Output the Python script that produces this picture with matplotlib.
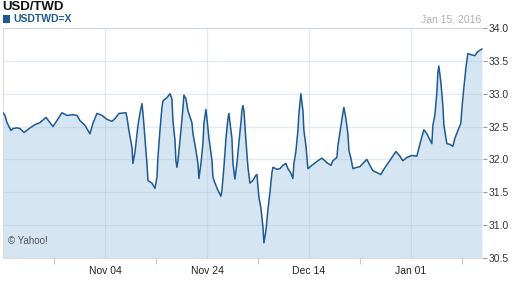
import numpy as np
import pandas as pd
import matplotlib
matplotlib.use('Agg')
import matplotlib.pyplot as plt
from matplotlib.patches import Rectangle

plt.rcParams['font.family'] = ['Liberation Sans', 'DejaVu Sans']

# trading days after 2015-10-15 (weekends skipped) and USD/TWD rate
start = '2015-10-15'
trade_day = [0.00, 0.27, 0.55, 1.10, 1.37, 1.92, 2.33, 2.88, 3.71, 4.39, 5.08, 5.90, 6.86,
             8.10, 8.78, 9.61, 10.16, 10.57, 11.25, 11.94, 12.35, 12.90, 13.59, 14.27, 14.96,
             15.37, 15.92, 16.88, 17.02, 17.29, 17.71, 17.84, 18.12, 18.53, 18.80, 19.08, 19.22,
             19.49, 19.76, 19.90, 20.45, 20.86, 21.14, 21.27, 21.55, 21.82, 21.96, 22.51, 22.92,
             23.19, 23.33, 23.61, 23.74, 23.88, 24.02, 24.43, 24.70, 24.84, 25.12, 25.39, 25.94,
             26.08, 26.49, 26.76, 26.90, 27.18, 27.45, 27.59, 27.86, 28.00, 28.27, 28.69, 28.82,
             29.10, 29.51, 29.92, 30.06, 30.33, 30.61, 30.88, 31.02, 31.16, 31.43, 31.57, 31.84,
             32.12, 32.39, 32.67, 32.80, 32.94, 33.08, 33.35, 33.63, 33.90, 34.31, 34.72, 34.86,
             35.14, 35.41, 35.69, 35.82, 36.10, 36.37, 36.65, 36.92, 37.06, 37.61, 38.02, 38.43,
             38.84, 39.12, 39.53, 39.80, 39.94, 40.21, 40.49, 40.63, 40.90, 41.18, 41.31, 41.59,
             41.86, 42.41, 43.23, 43.78, 44.19, 44.47, 45.02, 45.29, 45.84, 45.98, 46.25, 46.53,
             46.67, 46.80, 47.08, 47.35, 47.49, 47.76, 48.04, 48.59, 49.00, 49.41, 49.96, 50.37,
             50.78, 51.33, 51.88, 52.29, 52.84, 53.39, 53.94, 54.49, 54.90, 55.45, 56.13, 56.82,
             56.96, 57.37, 57.78, 58.19, 58.61, 58.88, 59.02, 59.29, 59.57, 59.70, 59.84, 60.12,
             60.39, 60.53, 60.94, 61.35, 61.76, 62.04, 62.45, 62.86, 63.00, 63.27, 63.55, 63.82,
             64.37, 64.78, 65.19, 65.74]
rate = [32.71, 32.67, 32.56, 32.44, 32.47, 32.48, 32.47, 32.41, 32.48, 32.53, 32.56, 32.64, 32.50,
        32.71, 32.67, 32.68, 32.67, 32.59, 32.52, 32.39, 32.55, 32.70, 32.67, 32.61, 32.58,
        32.62, 32.70, 32.71, 32.64, 32.44, 32.18, 31.94, 32.11, 32.52, 32.70, 32.85, 32.70,
        32.32, 31.94, 31.68, 31.64, 31.56, 31.73, 32.03, 32.44, 32.79, 32.89, 32.94, 33.00,
        32.92, 32.59, 32.29, 31.98, 31.88, 31.98, 32.44, 32.77, 32.98, 32.92, 32.74, 32.56,
        32.39, 32.14, 31.94, 31.71, 31.94, 32.24, 32.55, 32.76, 32.62, 32.33, 31.98, 31.73,
        31.64, 31.53, 31.44, 31.53, 31.88, 32.32, 32.62, 32.70, 32.56, 32.32, 31.94, 31.70,
        31.94, 32.26, 32.56, 32.74, 32.82, 32.74, 32.29, 31.88, 31.64, 31.68, 31.76, 31.77,
        31.42, 31.26, 30.97, 30.73, 30.92, 31.23, 31.50, 31.80, 31.88, 31.85, 31.86, 31.91,
        31.94, 31.86, 31.79, 31.71, 31.94, 32.12, 32.44, 32.70, 33.00, 32.74, 32.44, 32.21,
        31.86, 31.91, 31.98, 32.02, 31.98, 31.95, 31.91, 31.98, 32.03, 32.21, 32.41, 32.62,
        32.71, 32.79, 32.62, 32.39, 32.14, 32.02, 31.86, 31.88, 31.89, 31.94, 32.00, 31.91,
        31.83, 31.80, 31.77, 31.85, 31.94, 32.03, 32.12, 32.05, 31.98, 32.03, 32.06, 32.05,
        32.11, 32.29, 32.45, 32.39, 32.30, 32.24, 32.52, 32.67, 33.02, 33.32, 33.42, 33.17,
        32.82, 32.52, 32.24, 32.23, 32.20, 32.32, 32.44, 32.55, 32.77, 33.09, 33.39, 33.61,
        33.59, 33.58, 33.64, 33.68]

major_dates = ['2015-11-04', '2015-11-24', '2015-12-14', '2016-01-01']
major_labels = ['Nov 04', 'Nov 24', 'Dec 14', 'Jan 01']
y_ticks = [30.5, 31.0, 31.5, 32.0, 32.5, 33.0, 33.5, 34.0]

major_pos = np.busday_count(start, major_dates)
step = major_pos[1] - major_pos[0]
minor_pos = np.arange(major_pos[0] - step / 2, 66, step)

line_c = '#1d5a92'
fill_c = '#d5e5f1'

fig = plt.figure(figsize=(5.12, 2.88), dpi=100)
ax = fig.add_axes([3 / 512, 1 - 258 / 288, 480 / 512, 230 / 288])

ax.fill_between(trade_day, rate, 30.5, color=fill_c, lw=0, zorder=1)
ax.plot(trade_day, rate, color=line_c, lw=1.1, zorder=4)

ax.set_xlim(0, 65.9)
ax.set_ylim(30.5, 34.0)

ax.set_xticks(major_pos)
ax.set_xticklabels(major_labels)
ax.set_xticks(minor_pos, minor=True)
ax.set_yticks(y_ticks)
ax.set_yticklabels([f'{v:.1f}' for v in y_ticks])

ax.grid(True, which='major', color='#a9c4dc', alpha=0.35, lw=0.9, zorder=2)
ax.set_axisbelow(False)

ax.yaxis.tick_right()
ax.tick_params(axis='y', which='major', length=3, width=0.8, color='#999999',
               labelsize=7.5, labelcolor='#333333', pad=1)
ax.tick_params(axis='x', which='major', length=0, labelsize=7.5, labelcolor='#222222', pad=6)
ax.tick_params(axis='x', which='minor', length=4, width=0.8, color='#cccccc', direction='out')

ax.spines['right'].set_visible(False)
ax.spines['left'].set_color('#dddddd')
ax.spines['bottom'].set_color('#dddddd')
ax.spines['top'].set_color('#e4e4e4')

ax.text(0.01, 0.05, '\u00a9 Yahoo!', transform=ax.transAxes, fontsize=7,
        color='#555555', va='bottom', ha='left', zorder=5)

fig.text(2 / 512, 1 - 7.5 / 288, 'USD/TWD', fontsize=9.5, fontweight='bold',
         color='#111111', va='center', ha='left')
fig.patches.append(Rectangle((3 / 512, 1 - 23 / 288), 7 / 512, 8 / 288,
                             transform=fig.transFigure, color=line_c, lw=0))
fig.text(13 / 512, 1 - 19.5 / 288, 'USDTWD=X', fontsize=7.5, fontweight='bold',
         color=line_c, va='center', ha='left')
fig.text(481 / 512, 1 - 19 / 288, 'Jan 15, 2016', fontsize=7.5, color='#b0b0b0',
         va='center', ha='right')

fig.savefig('out.png', dpi=100)
